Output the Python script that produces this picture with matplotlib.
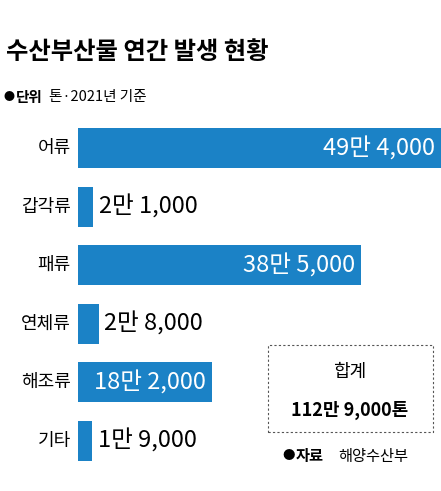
import matplotlib.pyplot as plt
from matplotlib.patches import Rectangle

plt.rcParams['font.family'] = ['Noto Sans CJK KR', 'DejaVu Sans']

categories = ["어류", "갑각류", "패류", "연체류", "해조류", "기타"]
values = [494000, 21000, 385000, 28000, 182000, 19000]
labels = ["49만 4,000", "2만 1,000", "38만 5,000", "2만 8,000", "18만 2,000", "1만 9,000"]
inside = [True, False, True, False, True, False]

W, H = 441, 491
fig = plt.figure(figsize=(W / 100, H / 100), dpi=100)
blue = "#1b82c6"

def fx(px):
    return px / W

def fy(py):
    return 1 - py / H

fig.text(fx(6), fy(52), "수산부산물 연간 발생 현황", fontsize=17.5, fontweight="bold", va="center")
fig.text(fx(3), fy(97), "●", fontsize=8, va="center")
fig.text(fx(16), fy(97), "단위", fontsize=10.5, fontweight="bold", va="center")
fig.text(fx(49), fy(97), "톤·2021년 기준", fontsize=10.5, va="center")

ax = fig.add_axes([fx(78), fy(470), fx(441) - fx(78), fy(119) - fy(470)])
ax.barh(range(len(values)), values, height=0.68, color=blue)
ax.set_xlim(0, 494000)
ax.set_ylim(len(values) - 0.5, -0.5)
ax.axis("off")
for i, (v, lab, ins) in enumerate(zip(values, labels, inside)):
    if ins:
        ax.text(v - 8000, i, lab, color="white", fontsize=17, ha="right", va="center")
    else:
        ax.text(v + 8000, i, lab, color="black", fontsize=17, ha="left", va="center")
    ax.text(-10000, i, categories[i], fontsize=13, ha="right", va="center", clip_on=False)

fig.patches.append(Rectangle((fx(268), fy(432)), fx(433) - fx(268), fy(345) - fy(432),
                             transform=fig.transFigure, fill=False, ls=(0, (2, 2)),
                             lw=0.8, ec="#555555"))
fig.text(fx(350), fy(372), "합계", fontsize=13, ha="center", va="center")
fig.text(fx(350), fy(410), "112만 9,000톤", fontsize=13, fontweight="bold", ha="center", va="center")

fig.text(fx(282), fy(456), "●", fontsize=9, va="center")
fig.text(fx(296), fy(456), "자료", fontsize=11, fontweight="bold", va="center")
fig.text(fx(338), fy(456), "해양수산부", fontsize=11, va="center")

fig.savefig("out.png", dpi=100)
